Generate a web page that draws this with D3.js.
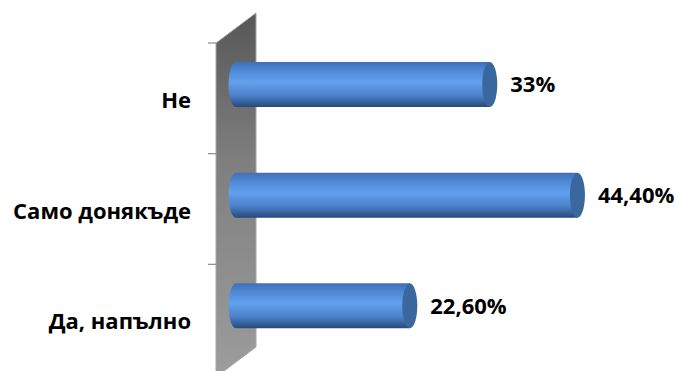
<!DOCTYPE html>
<meta charset="utf-8">
<style>
body { margin: 0; background: #fff; }
svg { display: block; }
.cat { font: bold 22px "Open Sans", sans-serif; fill: #000; }
.val { font: bold 22px "Open Sans", sans-serif; fill: #000; }
.tick { stroke: #8c8c8c; stroke-width: 1.2; }
</style>
<body>
<script src="https://cdnjs.cloudflare.com/ajax/libs/d3/7.8.5/d3.min.js"></script>
<script>
// categories top to bottom
var categories = ["Не", "Само донякъде", "Да, напълно"];
var values = [33, 44.4, 22.6];
var valueLabels = ["33%", "44,40%", "22,60%"];

var width = 676, height = 371;

var svg = d3.select("body").append("svg")
    .attr("width", width)
    .attr("height", height);

var x = d3.scaleLinear().domain([0, 50]).range([236, 620.5]);
var y = d3.scaleBand().domain(categories).range([43, 375]);

var defs = svg.append("defs");

var wallGrad = defs.append("linearGradient")
    .attr("id", "wall").attr("x1", 0).attr("y1", 0).attr("x2", 0).attr("y2", 1);
wallGrad.append("stop").attr("offset", "0%").attr("stop-color", "#575757");
wallGrad.append("stop").attr("offset", "40%").attr("stop-color", "#7e7e7e");
wallGrad.append("stop").attr("offset", "100%").attr("stop-color", "#9d9d9d");

var barGrad = defs.append("linearGradient")
    .attr("id", "bar").attr("x1", 0).attr("y1", 0).attr("x2", 0).attr("y2", 1);
barGrad.append("stop").attr("offset", "0%").attr("stop-color", "#3f70b8");
barGrad.append("stop").attr("offset", "20%").attr("stop-color", "#5089d6");
barGrad.append("stop").attr("offset", "45%").attr("stop-color", "#62a0ee");
barGrad.append("stop").attr("offset", "75%").attr("stop-color", "#4a80c8");
barGrad.append("stop").attr("offset", "100%").attr("stop-color", "#27497a");

// back wall (3D)
var wx0 = 216, wx1 = 256;
svg.append("path")
    .attr("d", "M" + wx0 + "," + y.range()[0] + " L" + wx1 + ",13 L" + wx1 + ",347 L" + wx0 + ",377 Z")
    .attr("fill", "url(#wall)")
    .attr("stroke", "#a6a6a6")
    .attr("stroke-width", 1);

// tick marks at band boundaries
svg.selectAll("line.tick")
    .data(categories)
    .join("line")
    .attr("class", "tick")
    .attr("x1", 208).attr("x2", wx0)
    .attr("y1", function(d) { return y(d); })
    .attr("y2", function(d) { return y(d); });

var barH = 45, rx = 7.5, ry = barH / 2;
var shift = 19; // offset of bar inside band (perspective)

var bars = svg.selectAll("g.bar")
    .data(categories)
    .join("g")
    .attr("class", "bar");

bars.append("path")
    .attr("fill", "url(#bar)")
    .attr("d", function(d, i) {
        var x0 = x(0), x1 = x(values[i]);
        var y0 = y(d) + shift, y1 = y0 + barH;
        return "M" + x1 + "," + y0 + " L" + x0 + "," + y0 +
            " A" + rx + "," + ry + " 0 0 0 " + x0 + "," + y1 +
            " L" + x1 + "," + y1 + " Z";
    });

bars.append("ellipse")
    .attr("cx", function(d, i) { return x(values[i]); })
    .attr("cy", function(d) { return y(d) + shift + ry; })
    .attr("rx", rx).attr("ry", ry)
    .attr("fill", "#3b679f");

svg.selectAll("text.val")
    .data(categories)
    .join("text")
    .attr("class", "val")
    .attr("x", function(d, i) { return x(values[i]) + rx + 13; })
    .attr("y", function(d) { return y(d) + shift + ry; })
    .attr("dy", "0.35em")
    .text(function(d, i) { return valueLabels[i]; });

svg.selectAll("text.cat")
    .data(categories)
    .join("text")
    .attr("class", "cat")
    .attr("text-anchor", "end")
    .attr("x", 191)
    .attr("y", function(d) { return y(d) + y.bandwidth() / 2 + 2; })
    .attr("dy", "0.35em")
    .text(function(d) { return d; });
</script>
</body>
